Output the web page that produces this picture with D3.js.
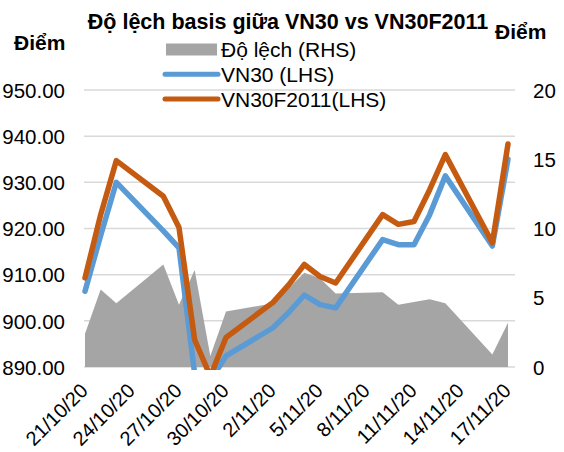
<!DOCTYPE html>
<html>
<head>
<meta charset="utf-8">
<script src="https://d3js.org/d3.v7.min.js"></script>
<style>
  body { margin: 0; background: #fff; }
  svg text { font-family: "Liberation Sans", Arial, sans-serif; fill: #000; }
</style>
</head>
<body>
<div id="visu"></div>
<script>

// Données
var dates = ["21/10/20","22/10/20","23/10/20","26/10/20","27/10/20","28/10/20","29/10/20","30/10/20",
             "2/11/20","3/11/20","4/11/20","5/11/20","6/11/20","9/11/20","10/11/20","11/11/20",
             "12/11/20","13/11/20","16/11/20","17/11/20"]
var vn30  = [906.4, 918.5, 930.0, 919.5, 915.8, 888.5, 887.0, 892.4, 898.5, 901.8,
             905.6, 903.5, 902.8, 917.6, 916.5, 916.5, 923.0, 931.4, 916.2, 935.0]
var vn30f = [909.3, 923.0, 934.7, 927.0, 920.2, 895.9, 888.0, 896.4, 904.0, 907.8,
             912.2, 909.6, 908.2, 923.0, 920.9, 921.5, 928.4, 936.0, 916.9, 938.3]
var dolech = [2.4, 5.6, 4.6, 7.4, 4.5, 7.0, 0.8, 4.0, 4.6, 5.7,
              6.8, 6.4, 5.3, 5.4, 4.5, 4.7, 4.9, 4.6, 0.9, 3.2]
var xTicks = ["21/10/20","24/10/20","27/10/20","30/10/20","2/11/20","5/11/20","8/11/20","11/11/20","14/11/20","17/11/20"]
var yLeftTicks = [890, 900, 910, 920, 930, 940, 950]
var yRightTicks = [0, 5, 10, 15, 20]

var largeur = 564, hauteur = 452
var parse = d3.timeParse("%d/%m/%y")

var svg = d3.select("#visu").append("svg")
  .attr("width", largeur)
  .attr("height", hauteur)

var x = d3.scaleTime()
  .domain([parse(dates[0]), parse(dates[dates.length - 1])])
  .range([85, 508])
var yL = d3.scaleLinear().domain([890, 950]).range([367, 90])
var yR = d3.scaleLinear().domain([0, 20]).range([367, 90])

var data = dates.map((d, i) => ({date: parse(d), a: vn30[i], b: vn30f[i], c: dolech[i]}))

// grille
svg.append("g").selectAll("line")
  .data(yLeftTicks)
  .join("line")
    .attr("x1", 84).attr("x2", 515)
    .attr("y1", d => yL(d)).attr("y2", d => yL(d))
    .attr("stroke", "#d9d9d9")
    .attr("stroke-width", 1.5)

// zone de découpe pour les courbes
svg.append("clipPath").attr("id", "clip")
  .append("rect").attr("x", 70).attr("y", 80).attr("width", 460).attr("height", 290)

// Độ lệch (aire)
svg.append("path")
  .datum(data)
  .attr("fill", "#a5a5a5")
  .attr("d", d3.area().x(d => x(d.date)).y0(yR(0)).y1(d => yR(d.c)))

var courbes = [
  {key: "a", color: "#5b9bd5"},
  {key: "b", color: "#c55a11"}
]
courbes.forEach(function(s) {
  svg.append("path")
    .datum(data)
    .attr("clip-path", "url(#clip)")
    .attr("fill", "none")
    .attr("stroke", s.color)
    .attr("stroke-width", 5.5)
    .attr("stroke-linejoin", "round")
    .attr("stroke-linecap", "round")
    .attr("d", d3.line().x(d => x(d.date)).y(d => yL(d[s.key])))
})

// axe gauche
var axeG = svg.append("g")
  .attr("transform", "translate(65,0)")
  .call(d3.axisLeft(yL).tickValues(yLeftTicks).tickSize(0).tickPadding(0).tickFormat(d3.format(".2f")))
axeG.select(".domain").remove()
axeG.selectAll("text").style("font-size", "20.5px").attr("dy", "0.35em")

// axe droit
var axeD = svg.append("g")
  .attr("transform", "translate(533,0)")
  .call(d3.axisRight(yR).tickValues(yRightTicks).tickSize(0).tickPadding(0))
axeD.select(".domain").remove()
axeD.selectAll("text").style("font-size", "20.5px").attr("dy", "0.35em")

// axe des dates
svg.append("g").selectAll("text")
  .data(xTicks)
  .join("text")
    .attr("text-anchor", "end")
    .attr("transform", d => "translate(" + (x(parse(d)) + 4) + ",392) rotate(-45)")
    .style("font-size", "20px")
    .text(d => d)

// titres
svg.append("text")
  .attr("x", 288).attr("y", 29)
  .attr("text-anchor", "middle")
  .style("font-size", "21.5px").style("font-weight", "bold")
  .text("Độ lệch basis giữa VN30 vs VN30F2011")
svg.append("text")
  .attr("x", 14).attr("y", 50)
  .style("font-size", "21px").style("font-weight", "bold")
  .text("Điểm")
svg.append("text")
  .attr("x", 495).attr("y", 39)
  .style("font-size", "21px").style("font-weight", "bold")
  .text("Điểm")

// légende
var legende = [
  {nom: "Độ lệch (RHS)", type: "rect", color: "#a5a5a5"},
  {nom: "VN30 (LHS)", type: "line", color: "#5b9bd5"},
  {nom: "VN30F2011(LHS)", type: "line", color: "#c55a11"}
]
legende.forEach(function(l, i) {
  var cy = 49.5 + i * 24.8
  if (l.type == "rect")
    svg.append("rect").attr("x", 166).attr("y", cy - 6).attr("width", 51).attr("height", 12).attr("fill", l.color)
  else
    svg.append("line").attr("x1", 165).attr("x2", 218).attr("y1", cy).attr("y2", cy)
      .attr("stroke", l.color).attr("stroke-width", 5).attr("stroke-linecap", "round")
  svg.append("text")
    .attr("x", 221).attr("y", cy + 7.5)
    .style("font-size", "21px")
    .text(l.nom)
})

</script>
</body>
</html>
